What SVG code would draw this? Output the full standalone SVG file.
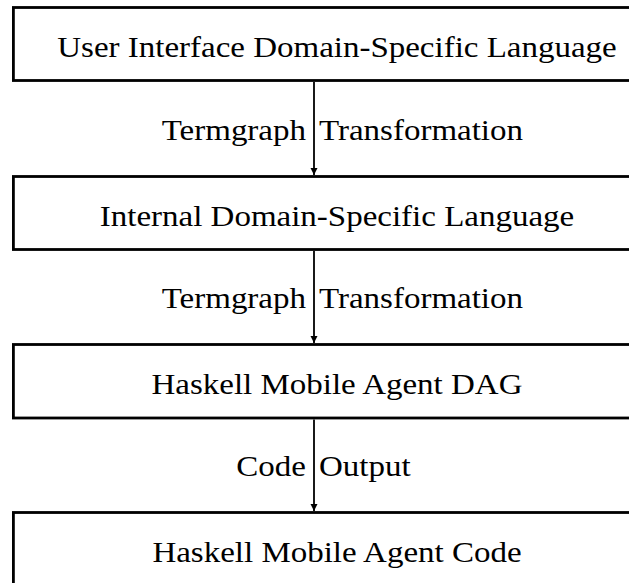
<svg xmlns="http://www.w3.org/2000/svg" width="629" height="583" viewBox="0 0 629 583">
  <style>
    .box { fill: #ffffff; stroke: #000000; stroke-width: 2.8; }
    .t { font-family: "Liberation Serif", serif; font-size: 30px; fill: #000000; }
    .c { text-anchor: middle; }
    .r { text-anchor: end; }
    .edge { stroke: #000000; stroke-width: 1.8; fill: none; marker-end: url(#arrow); }
  </style>
  <defs>
    <marker id="arrow" markerUnits="userSpaceOnUse" markerWidth="8" markerHeight="10" refX="7" refY="3.5" orient="auto">
      <path d="M0,0 L7,3.5 L0,7 Z" fill="#000000"/>
    </marker>
  </defs>
  <rect width="629" height="583" fill="#ffffff"/>

  <!-- text is widened 1.1x horizontally; x values are given in the scaled space -->
  <g id="ui-dsl">
    <rect class="box" x="13.4" y="7.5" width="660" height="73"/>
    <text class="t c" transform="scale(1.1,1)" x="306.36" y="57">User Interface Domain-Specific Language</text>
  </g>
  <g id="internal-dsl">
    <rect class="box" x="13.4" y="176.5" width="660" height="73"/>
    <text class="t c" transform="scale(1.1,1)" x="306.36" y="226">Internal Domain-Specific Language</text>
  </g>
  <g id="dag">
    <rect class="box" x="13.4" y="344.5" width="660" height="73.5"/>
    <text class="t c" transform="scale(1.1,1)" x="306.36" y="394">Haskell Mobile Agent DAG</text>
  </g>
  <g id="code">
    <rect class="box" x="13.4" y="512.5" width="660" height="90"/>
    <text class="t c" transform="scale(1.1,1)" x="306.36" y="562">Haskell Mobile Agent Code</text>
  </g>

  <g id="connectors">
    <line class="edge" x1="314" y1="82" x2="314" y2="175"/>
    <text class="t r" transform="scale(1.1,1)" x="278.18" y="140">Termgraph</text>
    <text class="t" transform="scale(1.1,1)" x="290" y="140">Transformation</text>

    <line class="edge" x1="314" y1="251" x2="314" y2="343"/>
    <text class="t r" transform="scale(1.1,1)" x="278.18" y="308">Termgraph</text>
    <text class="t" transform="scale(1.1,1)" x="290" y="308">Transformation</text>

    <line class="edge" x1="314" y1="419.5" x2="314" y2="511"/>
    <text class="t r" transform="scale(1.1,1)" x="278.18" y="476">Code</text>
    <text class="t" transform="scale(1.1,1)" x="290" y="476">Output</text>
  </g>
</svg>
